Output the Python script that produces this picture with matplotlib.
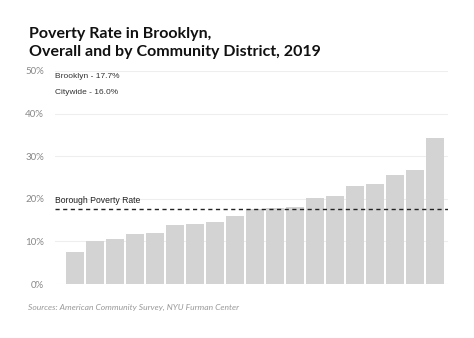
import matplotlib
matplotlib.use("Agg")
import matplotlib.pyplot as plt

values = [7.6, 10.0, 10.6, 11.7, 12.0, 13.8, 14.2, 14.6, 16.0, 17.6, 17.8, 18.0,
          20.1, 20.7, 23.1, 23.4, 25.7, 26.8, 34.3]
borough_rate = 17.7
citywide_rate = 16.0
yticks = [0, 10, 20, 30, 40, 50]
ytick_labels = ["0%", "10%", "20%", "30%", "40%", "50%"]
title = "Poverty Rate in Brooklyn,\nOverall and by Community District, 2019"
source = "Sources: American Community Survey, NYU Furman Center"

fig = plt.figure(figsize=(4.74, 3.38), dpi=100)
ax = fig.add_axes([55/474, 1-284/338, (448-55)/474, (284-71)/338])

x = list(range(len(values)))
ax.bar(x, values, width=0.885, color="#d3d3d3", zorder=2)
ax.set_ylim(0, 50)
ax.set_xlim(-1.0, len(values) - 0.35)
ax.set_yticks(yticks)
ax.set_yticklabels(ytick_labels, fontsize=7, color="#888888", family="Lato")
ax.set_xticks([])
ax.tick_params(axis="y", length=0, pad=8)
for s in ax.spines.values():
    s.set_visible(False)
ax.grid(axis="y", color="#eeeeee", linewidth=0.8, zorder=0)

ax.axhline(borough_rate, color="#222222", linestyle=(0, (3, 2.5)), linewidth=1.0, zorder=3)
ax.text(-1.0 + 0.02, borough_rate + 0.8, "Borough Poverty Rate", fontsize=6.2,
        family="Liberation Sans", color="#222222", va="bottom", ha="left")

fig.text(55/474, 1-76/338, f"Brooklyn - {borough_rate}%", fontsize=6.0,
         family="Liberation Sans", color="#333333", va="center", ha="left")
fig.text(55/474, 1-92/338, f"Citywide - {citywide_rate}%", fontsize=6.0,
         family="Liberation Sans", color="#333333", va="center", ha="left")

fig.text(29/474, 1-27/338, title, fontsize=11.5, fontweight="bold", family="Lato",
         color="#111111", va="top", ha="left", linespacing=1.4)
fig.text(28/474, 1-307/338, source, fontsize=6.1, style="italic", family="Lato",
         color="#999999", va="center", ha="left")

fig.savefig("out.png", dpi=100)
